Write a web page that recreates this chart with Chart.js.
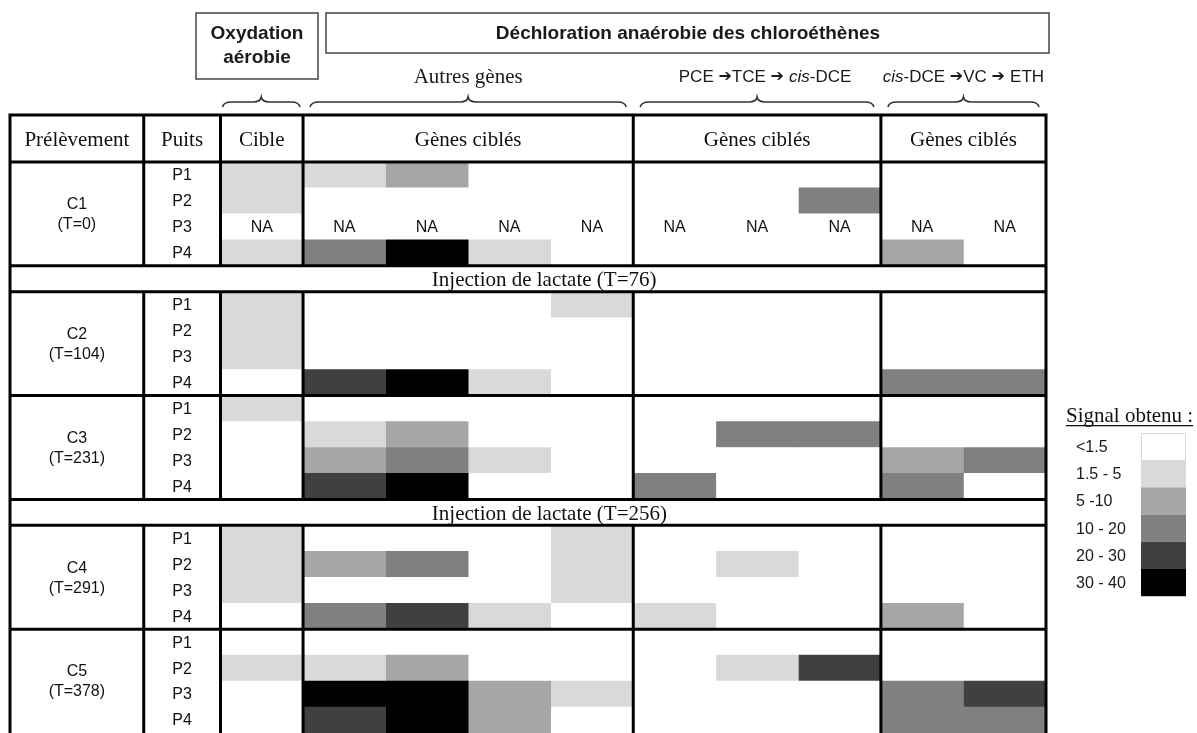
<!DOCTYPE html>
<html lang="fr">
<head>
<meta charset="utf-8">
<title>Signal obtenu par puits et par gène</title>
<script src="https://cdn.jsdelivr.net/npm/chart.js@4.4.1/dist/chart.umd.min.js"></script>
<style>
  html, body { margin: 0; padding: 0; background: #fff; }
  #wrap { width: 1197px; height: 733px; }
</style>
</head>
<body>
<div id="wrap"><canvas id="grille" width="1197" height="733"></canvas></div>
<script>
// --- Données ---
const campagnes = ['C1', 'C2', 'C3', 'C4', 'C5'];
const temps = ['(T=0)', '(T=104)', '(T=231)', '(T=291)', '(T=378)'];
const puits = ['P1', 'P2', 'P3', 'P4'];

// une injection de lactate après la campagne d'indice donné
const injectionApres = [0, 2];
const injectionTextes = ['Injection de lactate (T=76)', 'Injection de lactate (T=256)'];

// 10 colonnes : Cible | Autres gènes (4) | PCE->cis-DCE (3) | cis-DCE->ETH (2)
const groupes = ['Cible', 'Gènes ciblés', 'Gènes ciblés', 'Gènes ciblés'];
const groupesLargeur = [1, 4, 3, 2];

// classe de signal par puits (0 = <1.5 ... 5 = 30-40), null = NA
const NA10 = [null, null, null, null, null, null, null, null, null, null];
const signalC1 = [
  [1, 1, 2, 0, 0, 0, 0, 0, 0, 0],
  [1, 0, 0, 0, 0, 0, 0, 3, 0, 0],
  NA10,
  [1, 3, 5, 1, 0, 0, 0, 0, 2, 0]
];
const signalC2 = [
  [1, 0, 0, 0, 1, 0, 0, 0, 0, 0],
  [1, 0, 0, 0, 0, 0, 0, 0, 0, 0],
  [1, 0, 0, 0, 0, 0, 0, 0, 0, 0],
  [0, 4, 5, 1, 0, 0, 0, 0, 3, 3]
];
const signalC3 = [
  [1, 0, 0, 0, 0, 0, 0, 0, 0, 0],
  [0, 1, 2, 0, 0, 0, 3, 3, 0, 0],
  [0, 2, 3, 1, 0, 0, 0, 0, 2, 3],
  [0, 4, 5, 0, 0, 3, 0, 0, 3, 0]
];
const signalC4 = [
  [1, 0, 0, 0, 1, 0, 0, 0, 0, 0],
  [1, 2, 3, 0, 1, 0, 1, 0, 0, 0],
  [1, 0, 0, 0, 1, 0, 0, 0, 0, 0],
  [0, 3, 4, 1, 0, 1, 0, 0, 2, 0]
];
const signalC5 = [
  [0, 0, 0, 0, 0, 0, 0, 0, 0, 0],
  [1, 1, 2, 0, 0, 0, 1, 4, 0, 0],
  [0, 5, 5, 2, 1, 0, 0, 0, 3, 4],
  [0, 4, 5, 2, 0, 0, 0, 0, 3, 3]
];
const signaux = [signalC1, signalC2, signalC3, signalC4, signalC5];

// légende
const classes = ['<1.5', '1.5 - 5', '5 -10', '10 - 20', '20 - 30', '30 - 40'];
const gris = ['#ffffff', '#d9d9d9', '#a6a6a6', '#808080', '#404040', '#000000'];

// --- Mise en page ---
const NB_COL = 10;
const X_MIN = -2.55;             // colonnes Prélèvement / Puits à gauche de 0
const X_PUITS = -0.93;
const HAUT_ENTETE = 47;
const SERIF = '"Liberation Serif", "Times New Roman", serif';
const SANS = '"Liberation Sans", Arial, sans-serif';

// lignes du tableau (puits + bandeaux d'injection)
const lignes = [];
campagnes.forEach((c, k) => {
  puits.forEach((p, j) => lignes.push({ type: 'puits', campagne: k, puits: j, val: signaux[k][j] }));
  const inj = injectionApres.indexOf(k);
  if (inj >= 0) lignes.push({ type: 'injection', texte: injectionTextes[inj] });
});

const datasets = [];
for (let c = 0; c < NB_COL; c++) {
  datasets.push({
    data: lignes.map(l => l.type === 'puits' ? [c, c + 1] : null),
    backgroundColor: lignes.map(l => (l.type === 'puits' && l.val[c] != null) ? gris[l.val[c]] : '#ffffff'),
    borderWidth: 0,
    grouped: false,
    barPercentage: 1,
    categoryPercentage: 1
  });
}

function texteMixte(ctx, morceaux, cx, cy) {
  let total = 0;
  morceaux.forEach(m => { ctx.font = m[1]; total += ctx.measureText(m[0]).width; });
  let x = cx - total / 2;
  ctx.textAlign = 'left';
  morceaux.forEach(m => {
    ctx.font = m[1];
    ctx.fillText(m[0], x, cy);
    x += ctx.measureText(m[0]).width;
  });
  ctx.textAlign = 'center';
}

function accolade(ctx, x0, x1, y) {
  const xm = (x0 + x1) / 2;
  ctx.beginPath();
  ctx.moveTo(x0, y + 10);
  ctx.quadraticCurveTo(x0 + 1, y + 5, x0 + 9, y + 5);
  ctx.lineTo(xm - 8, y + 5);
  ctx.quadraticCurveTo(xm - 1, y + 5, xm, y);
  ctx.quadraticCurveTo(xm + 1, y + 5, xm + 8, y + 5);
  ctx.lineTo(x1 - 9, y + 5);
  ctx.quadraticCurveTo(x1 - 1, y + 5, x1, y + 10);
  ctx.stroke();
}

const tableau = {
  id: 'tableau',
  afterDatasetsDraw(chart) {
    const { ctx, chartArea: a, scales: { x, y } } = chart;
    const h = y.getPixelForValue(1) - y.getPixelForValue(0);
    const haut = i => y.getPixelForValue(i) - h / 2;
    const yTop = a.top - HAUT_ENTETE;
    ctx.save();

    // blocs de campagne (début/fin en indices de ligne)
    const blocs = [];
    lignes.forEach((l, i) => {
      if (l.type === 'puits' && l.puits === 0) blocs.push({ k: l.campagne, debut: i, fin: i + 4 });
    });

    // --- texte des cellules ---
    ctx.fillStyle = '#111';
    ctx.textBaseline = 'middle';
    ctx.textAlign = 'center';
    const xPrel = x.getPixelForValue((X_MIN + X_PUITS) / 2);
    const xPuits = x.getPixelForValue(X_PUITS / 2);
    lignes.forEach((l, i) => {
      const cy = y.getPixelForValue(i);
      if (l.type === 'puits') {
        ctx.font = '16px ' + SANS;
        ctx.fillText(puits[l.puits], xPuits, cy + 1);
        l.val.forEach((v, c) => {
          if (v == null) ctx.fillText('NA', x.getPixelForValue(c + 0.5), cy + 1);
        });
      } else {
        ctx.font = '21px ' + SERIF;
        ctx.textAlign = 'left';
        ctx.fillText(l.texte, x.getPixelForValue(2.56), cy + 2);
        ctx.textAlign = 'center';
      }
    });
    ctx.font = '16px ' + SANS;
    blocs.forEach(b => {
      const cy = (haut(b.debut) + haut(b.fin)) / 2;
      ctx.fillText(campagnes[b.k], xPrel, cy - 9);
      ctx.fillText(temps[b.k], xPrel, cy + 11);
    });

    // --- en-tête ---
    ctx.font = '21px ' + SERIF;
    const yEnt = (yTop + a.top) / 2 + 2;
    ctx.fillText('Prélèvement', xPrel, yEnt);
    ctx.fillText('Puits', xPuits, yEnt);
    let c0 = 0;
    const bordsGroupes = [0];
    groupes.forEach((g, n) => {
      const c1 = c0 + groupesLargeur[n];
      ctx.fillText(g, x.getPixelForValue((c0 + c1) / 2), yEnt);
      bordsGroupes.push(c1);
      c0 = c1;
    });

    // --- traits du tableau ---
    ctx.strokeStyle = '#000';
    ctx.lineWidth = 3;
    ctx.lineCap = 'square';
    const xs = [X_MIN, X_PUITS].concat(bordsGroupes).map(v => x.getPixelForValue(v));
    const xG = xs[0], xD = xs[xs.length - 1];
    ctx.beginPath();
    // horizontaux
    [yTop, a.top].forEach(yy => { ctx.moveTo(xG, yy); ctx.lineTo(xD, yy); });
    blocs.forEach(b => {
      [haut(b.debut), haut(b.fin)].forEach(yy => {
        if (yy < a.bottom - 2) { ctx.moveTo(xG, yy); ctx.lineTo(xD, yy); }
      });
    });
    // verticaux extérieurs
    [xG, xD].forEach(xx => { ctx.moveTo(xx, yTop); ctx.lineTo(xx, a.bottom + 2); });
    // verticaux intérieurs (en-tête + blocs, pas dans les bandeaux)
    xs.slice(1, -1).forEach(xx => {
      ctx.moveTo(xx, yTop); ctx.lineTo(xx, a.top);
      blocs.forEach(b => { ctx.moveTo(xx, haut(b.debut)); ctx.lineTo(xx, Math.min(haut(b.fin), a.bottom + 2)); });
    });
    ctx.stroke();

    // --- titres au-dessus ---
    ctx.lineWidth = 1.5;
    ctx.strokeStyle = '#444';
    ctx.lineCap = 'butt';
    ctx.strokeRect(196, 13, 122, 66);
    ctx.strokeRect(326, 13, 723, 40);
    ctx.fillStyle = '#1a1a1a';
    ctx.textAlign = 'center';
    ctx.font = 'bold 19px ' + SANS;
    ctx.fillText('Oxydation', 257, 34);
    ctx.fillText('aérobie', 257, 58);
    ctx.fillText('Déchloration anaérobie des chloroéthènes', 688, 34);

    const n = '17px ' + SANS, it = 'italic 17px ' + SANS, fl = '16px "DejaVu Sans", sans-serif';
    const centre = (g0, g1) => x.getPixelForValue((bordsGroupes[g0] + bordsGroupes[g1]) / 2);
    ctx.font = '21px ' + SERIF;
    ctx.fillText('Autres gènes', centre(1, 2), 77);
    texteMixte(ctx, [['PCE ', n], ['➔', fl], ['TCE ', n], ['➔ ', fl], ['cis', it], ['-DCE', n]], centre(2, 3) + 8, 77);
    texteMixte(ctx, [['cis', it], ['-DCE ', n], ['➔', fl], ['VC ', n], ['➔ ', fl], ['ETH', n]], centre(3, 4), 77);

    ctx.strokeStyle = '#333';
    ctx.lineWidth = 1.6;
    const px = v => x.getPixelForValue(v);
    accolade(ctx, px(0) + 2, px(1) - 3, 97);
    for (let g = 1; g < bordsGroupes.length - 1; g++) {
      accolade(ctx, px(bordsGroupes[g]) + 7, px(bordsGroupes[g + 1]) - 7, 97);
    }

    // --- légende ---
    ctx.fillStyle = '#111';
    ctx.textAlign = 'left';
    ctx.textBaseline = 'alphabetic';
    ctx.font = '21px ' + SERIF;
    ctx.fillText('Signal obtenu :', 1066, 422);
    const wT = ctx.measureText('Signal obtenu :').width;
    ctx.fillRect(1066, 425, wT, 1.3);
    ctx.textBaseline = 'middle';
    ctx.font = '16px ' + SANS;
    const hC = 27.2;
    classes.forEach((cl, i) => {
      const yy = 433 + i * hC;
      ctx.fillStyle = gris[i];
      ctx.fillRect(1141, yy, 45, hC);
      ctx.fillStyle = '#1a1a1a';
      ctx.fillText(cl, 1076, yy + hC / 2 + 1);
    });
    ctx.strokeStyle = '#d8d8d8';
    ctx.lineWidth = 1;
    ctx.strokeRect(1141.5, 433.5, 44, hC);

    ctx.restore();
  }
};

new Chart(document.getElementById('grille'), {
  type: 'bar',
  data: { labels: lignes.map((l, i) => 'L' + i), datasets },
  options: {
    indexAxis: 'y',
    responsive: false,
    animation: false,
    layout: { padding: { left: 10, right: 151, top: 162, bottom: 0 } },
    scales: {
      x: { type: 'linear', min: X_MIN, max: NB_COL, display: false },
      y: { type: 'category', display: false, offset: true }
    },
    plugins: { legend: { display: false }, tooltip: { enabled: false } }
  },
  plugins: [tableau]
});
</script>
</body>
</html>
